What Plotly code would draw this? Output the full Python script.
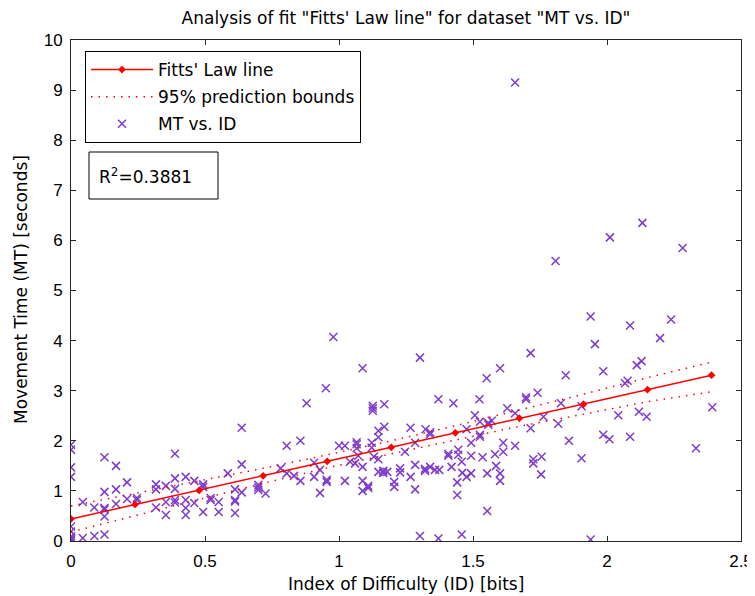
import plotly.graph_objects as go

# ---- data ----
id_bits = [
    0, 0, 0, 0, 0, 0, 0, 0, 0, 0,
    0.044, 0.044, 0.087, 0.087, 0.125, 0.125, 0.125, 0.125, 0.125, 0.125,
    0.168, 0.168, 0.168, 0.209, 0.209, 0.246, 0.246, 0.317, 0.317, 0.317,
    0.354, 0.354, 0.354, 0.388, 0.388, 0.388, 0.388, 0.388, 0.428, 0.428,
    0.428, 0.428, 0.46, 0.46, 0.493, 0.493, 0.493, 0.521, 0.521, 0.551,
    0.551, 0.585,
    0.612, 0.612, 0.612, 0.612, 0.637, 0.637, 0.637, 0.699, 0.699, 0.699,
    0.726, 0.782, 0.805, 0.805, 0.832, 0.856, 0.856, 0.879, 0.907, 0.907,
    0.929, 0.929, 0.951, 0.954, 0.954, 0.979, 1.0, 1.022, 1.022, 1.041,
    1.06, 1.066, 1.066, 1.066, 1.072, 1.088, 1.088, 1.088, 1.088, 1.109,
    1.109, 1.122, 1.122, 1.126, 1.126, 1.126, 1.13, 1.147, 1.147, 1.147,
    1.147, 1.165, 1.165, 1.169, 1.169, 1.18, 1.206, 1.206, 1.228, 1.228,
    1.246, 1.267, 1.267, 1.284, 1.284, 1.284, 1.302, 1.302, 1.323, 1.321,
    1.321, 1.34, 1.34, 1.34, 1.358, 1.371, 1.374, 1.371, 1.408, 1.408,
    1.42, 1.427, 1.441, 1.441, 1.445, 1.445, 1.458, 1.458, 1.46, 1.476,
    1.476, 1.493, 1.493, 1.493, 1.507, 1.524, 1.526, 1.526, 1.526, 1.536,
    1.551, 1.553, 1.553, 1.557, 1.557, 1.57, 1.582, 1.586, 1.601, 1.601,
    1.601, 1.613, 1.613, 1.628, 1.657, 1.657, 1.657, 1.698, 1.698, 1.715,
    1.715, 1.725, 1.725, 1.741, 1.754, 1.756, 1.763, 1.808, 1.818, 1.828,
    1.846, 1.858,
    1.905, 1.905, 1.939, 1.939, 1.955, 1.986, 1.986, 2.009, 2.011, 2.042,
    2.067, 2.077, 2.086, 2.086, 2.111, 2.119, 2.129, 2.132, 2.148, 2.198,
    2.239, 2.282, 2.332, 2.393,
]
mt_seconds = [
    1.92, 1.82, 1.47, 1.28, 0.29, 0.19, 0.09, 0.03, 0.0, 0.05,
    0.78, 0.06, 0.67, 0.10, 0.13, 1.67, 0.98, 0.66, 0.63, 0.49,
    1.50, 1.03, 0.74, 1.17, 0.84, 0.86, 0.82, 1.13, 1.03, 0.67,
    1.10, 0.78, 0.52, 1.74, 1.25, 1.04, 0.82, 0.77, 1.28, 0.82,
    0.66, 0.52, 1.20, 0.76, 1.13, 1.08, 0.58, 0.86, 0.82, 0.78,
    0.58, 1.35,
    1.03, 0.82, 0.79, 0.56, 2.26, 1.53, 0.97, 1.12, 1.07, 1.02,
    0.95, 1.45, 1.90, 1.35, 1.30, 2.0, 1.20, 2.75, 1.56, 1.28,
    1.42, 0.96, 3.05, 1.22, 1.18, 4.07, 1.90, 1.90, 1.20, 1.58,
    1.55, 1.97, 1.93, 1.85, 1.70, 3.45, 1.48, 1.20, 1.0, 1.10,
    1.06, 1.96, 1.86, 2.70, 2.65, 2.60, 1.68, 2.20, 2.07, 1.63,
    1.38, 1.40, 1.36, 2.73, 2.28, 1.38, 1.18, 1.08, 1.45, 1.37,
    1.78, 2.26, 1.28, 1.96, 1.52, 1.03, 3.66, 0.10, 2.23, 1.44,
    1.40, 2.17, 2.13, 1.48, 1.42, 2.83, 1.42, 0.05, 1.74, 1.70,
    1.48, 2.75, 1.17, 0.92, 1.82, 1.72, 1.58, 0.13, 1.36, 2.23,
    1.28, 1.96, 1.70, 1.35, 2.51, 2.83, 2.38, 2.12, 2.08, 1.67,
    3.25, 1.35, 0.60, 2.36, 2.32, 2.40, 1.73, 1.50, 3.45, 1.35,
    1.20, 1.96, 1.78, 2.65, 2.55, 1.90, 9.15, 2.87, 2.83, 3.75,
    2.25, 1.63, 1.55, 2.96, 1.33, 1.68, 2.48, 5.59, 2.34, 2.75,
    3.31, 2.0,
    2.69, 1.65, 4.48, 0.03, 3.93, 3.39, 2.12, 2.03, 6.06, 2.51,
    3.15, 3.20, 4.30, 2.08, 3.51, 2.58, 3.59, 6.35, 2.48, 4.05,
    4.42, 5.85, 1.85, 2.67,
]

fit_x = [0, 0.239, 0.478, 0.717, 0.956, 1.195, 1.434, 1.673, 1.912, 2.151, 2.39]
fit_y = [0.44, 0.73, 1.01, 1.30, 1.59, 1.87, 2.16, 2.45, 2.73, 3.02, 3.31]
bound_upper = [0.70, 0.95, 1.19, 1.45, 1.72, 2.00, 2.30, 2.61, 2.93, 3.26, 3.57]
bound_lower = [0.18, 0.51, 0.83, 1.15, 1.46, 1.74, 2.02, 2.29, 2.53, 2.78, 2.98]

x_ticks = [0, 0.5, 1, 1.5, 2, 2.5]
x_tick_labels = ["0", "0.5", "1", "1.5", "2", "2.5"]
y_ticks = [0, 1, 2, 3, 4, 5, 6, 7, 8, 9, 10]

r_squared_text = "R<sup>2</sup>=0.3881"

# ---- styling ----
TICK_FONT = "Liberation Sans, Arial, sans-serif"
TEXT_FONT = "DejaVu Sans, sans-serif"
PURPLE = "rgb(125,60,205)"
RED = "#ff0000"

# The page body adds an 8px offset; figure is sized so the plot area lands
# at x 71..741, y 40..541 of the 755x596 window.
OFF = 8
W, H = 755 - OFF, 596 - OFF
L, T = 71 - OFF, 40 - OFF
PW, PH = 670, 501
R, B = W - L - PW, H - T - PH
Y0 = 541  # page pixel of the plot bottom


def py(page_y):
    return (Y0 - page_y) / PH


def px(page_x):
    return (page_x - 71) / PW


fig = go.Figure()

fig.add_trace(go.Scatter(
    x=id_bits, y=mt_seconds, mode="markers", name="MT vs. ID",
    marker=dict(symbol="x-thin", size=8, color=PURPLE,
                line=dict(width=1.5, color=PURPLE)),
    legendrank=3, legendgroup="c",
))
fig.add_trace(go.Scatter(
    x=fit_x, y=bound_upper, mode="lines", name="95% prediction bounds",
    line=dict(color=RED, width=1.5, dash="1.5px,6px"),
    legendrank=2, legendgroup="b",
))
fig.add_trace(go.Scatter(
    x=fit_x, y=bound_lower, mode="lines", name="95% prediction bounds",
    line=dict(color=RED, width=1.5, dash="1.5px,6px"),
    showlegend=False, legendgroup="b",
))
fig.add_trace(go.Scatter(
    x=fit_x, y=fit_y, mode="lines+markers", name="Fitts' Law line",
    line=dict(color=RED, width=1.5),
    marker=dict(symbol="diamond", size=6, color=RED),
    legendrank=1, legendgroup="a",
))

axis_common = dict(
    showline=True, linecolor="#262626", linewidth=1, mirror="ticks",
    ticks="inside", ticklen=5, tickcolor="#262626", tickwidth=1,
    showgrid=False, zeroline=False, automargin=False,
    tickfont=dict(family=TICK_FONT, size=17, color="black"),
)

fig.update_xaxes(range=[0, 2.5], tickvals=x_ticks, ticktext=x_tick_labels,
                 ticklabelstandoff=5, **axis_common)
fig.update_yaxes(range=[0, 10], tickvals=y_ticks, ticklabelstandoff=4,
                 **axis_common)

# axis titles
fig.add_annotation(xref="paper", yref="paper", x=0.5, y=py(584),
                   xanchor="center", yanchor="middle", showarrow=False,
                   text="Index of Difficulty (ID) [bits]",
                   font=dict(family=TEXT_FONT, size=17, color="black"))
fig.add_annotation(xref="paper", yref="paper", x=px(21), y=py(290),
                   xanchor="center", yanchor="middle", showarrow=False,
                   textangle=-90, text="Movement Time (MT) [seconds]",
                   font=dict(family=TEXT_FONT, size=17, color="black"))

# R^2 box
fig.add_shape(type="rect", xref="paper", yref="paper",
              x0=px(89), x1=px(218), y0=py(199), y1=py(152),
              line=dict(color="black", width=1), fillcolor="white", layer="above")
fig.add_annotation(xref="paper", yref="paper", x=px(97), y=py(176),
                   xanchor="left", yanchor="middle", showarrow=False,
                   text=r_squared_text,
                   font=dict(family=TEXT_FONT, size=17, color="black"))

fig.update_layout(
    width=W, height=H,
    margin=dict(l=L, r=R, t=T, b=B),
    paper_bgcolor="white", plot_bgcolor="white",
    title=dict(text='Analysis of fit "Fitts\' Law line" for dataset "MT vs. ID"',
               x=0.5, xref="paper", xanchor="center",
               y=1 - (18 - OFF) / H, yanchor="middle",
               font=dict(family=TEXT_FONT, size=17, color="black")),
    legend=dict(x=px(85), y=py(51), xanchor="left", yanchor="top",
                bgcolor="white", bordercolor="black", borderwidth=1,
                traceorder="grouped", tracegroupgap=2, itemwidth=62,
                font=dict(family=TEXT_FONT, size=17, color="black")),
    showlegend=True,
)

fig.write_html("out.html")
